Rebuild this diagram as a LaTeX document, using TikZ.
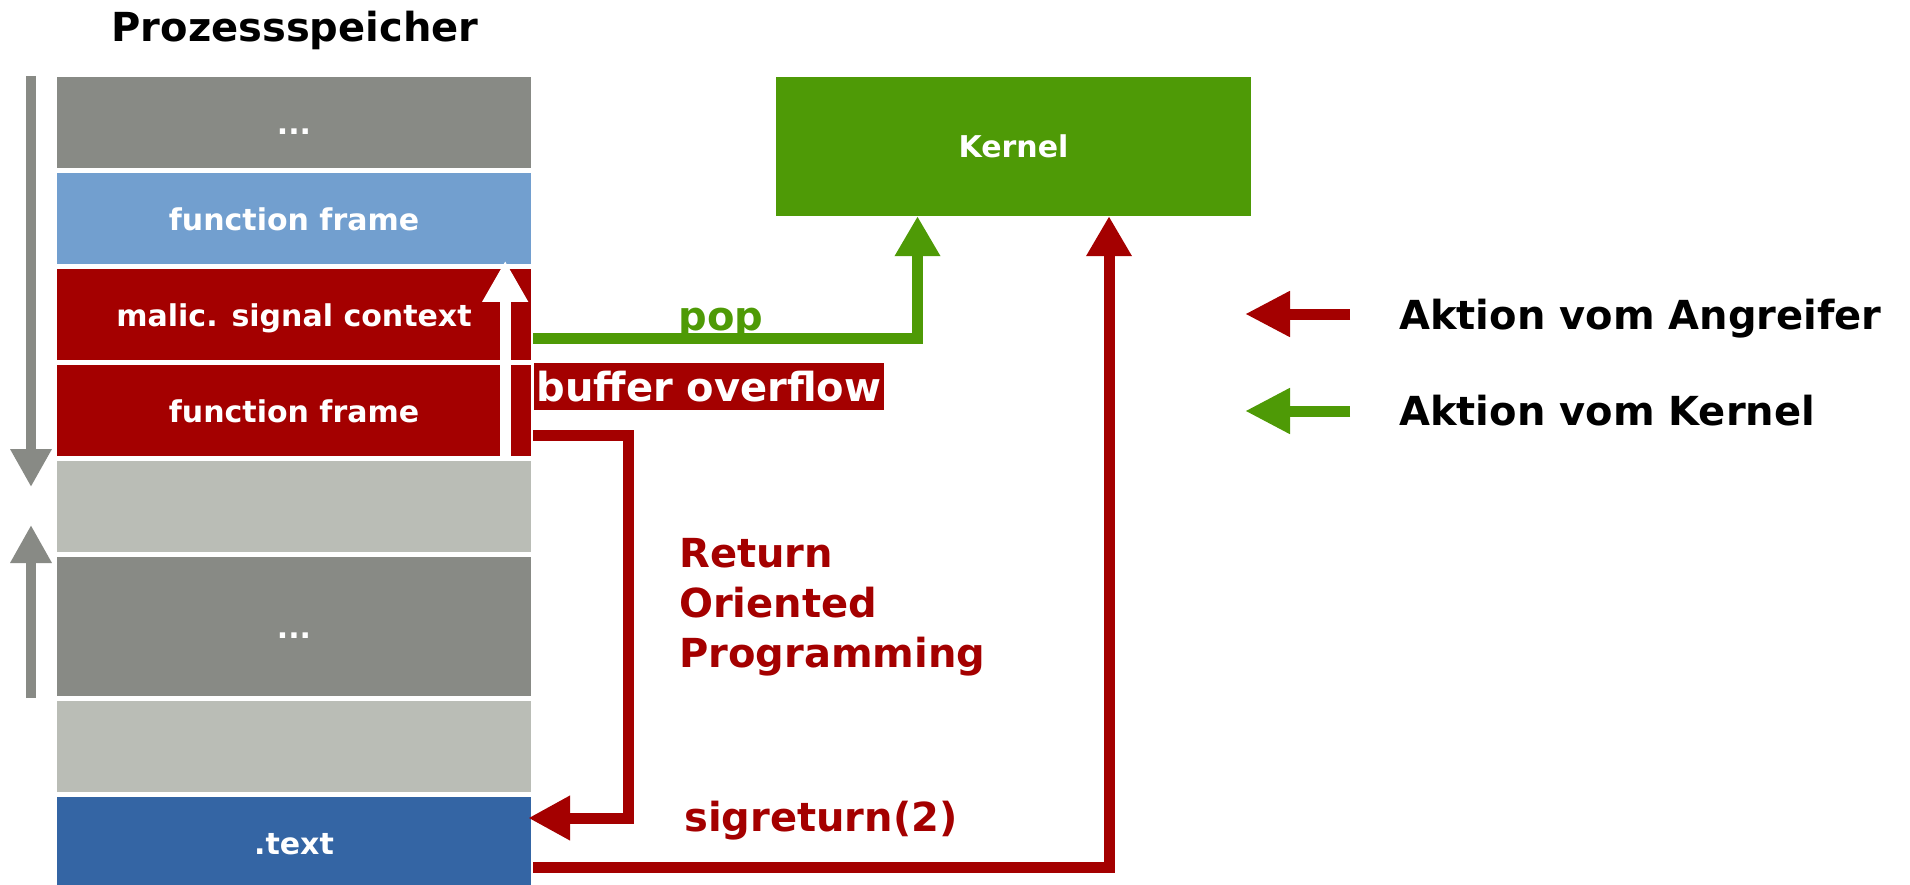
\documentclass[tikz,border=0pt]{standalone}
\usepackage{fontspec}
\setmainfont{DejaVu Sans}
\usetikzlibrary{arrows.meta}
\definecolor{dgray}{HTML}{888A85}
\definecolor{lgray}{HTML}{BABDB6}
\definecolor{lblue}{HTML}{729FCF}
\definecolor{dblue}{HTML}{3465A4}
\definecolor{dred}{HTML}{A40000}
\definecolor{dgreen}{HTML}{4E9A06}
\begin{document}
\begin{tikzpicture}[x=1pt,y=-1pt,
  mem/.style={minimum width=474pt, minimum height=91pt, inner sep=0pt, text=white,
    text height=24pt, text depth=0pt,
    font=\bfseries\fontsize{30}{36}\selectfont},
  big/.style={inner sep=0pt, font=\bfseries\fontsize{40}{50}\selectfont},
  conn/.style={line width=11pt},
  tipA/.style={-{Triangle[length=40pt,width=43pt]}},
  tipG/.style={-{Triangle[length=38pt,width=39pt]}, line width=10pt, dgray}
]
\useasboundingbox (0,0) rectangle (1910,885);
% memory boxes
\node[mem, fill=dgray] (b1) at (294,122.5) {...};
\node[mem, fill=lblue] (b2) at (294,218.5) {function frame};
\node[mem, fill=dred] (b3) at (294,314.5) {malic. signal context};
\node[mem, fill=dred] (b4) at (294,410.5) {function frame};
\node[mem, fill=lgray] (b5) at (294,506.5) {};
\node[mem, fill=dgray, minimum height=139pt] (b6) at (294,626.5) {...};
\node[mem, fill=lgray] (b7) at (294,746.5) {};
\node[mem, fill=dblue] (b8) at (294,842.5) {.text};
% title
\node[big, anchor=base] (title) at (295,42) {Prozessspeicher};
% growth arrows
\draw[tipG] (31,76) -- (31,487);
\draw[tipG] (31,698) -- (31,525);
% kernel
\node[minimum width=475pt, minimum height=139pt, inner sep=0pt, fill=dgreen, text=white,
  font=\bfseries\fontsize{30}{36}\selectfont] (kernel) at (1013.5,146.5) {Kernel};
% white overflow arrow
\draw[line width=11pt, white, -{Triangle[length=41pt,width=43pt]}]
  ([xshift=-26pt]b4.south east) -- ([xshift=-26pt,yshift=8pt]b3.north east);
% pop
\draw[conn, dgreen, tipA] ([xshift=2pt,yshift=-24pt]b3.east) -| ([xshift=-96pt]kernel.south);
\node[big, text=dgreen, anchor=base] (pop) at (721,330) {pop};
% buffer overflow label
\node[big, fill=dred, text=white, minimum width=350pt, minimum height=47pt] (bo) at (709,386.5) {buffer overflow};
% ROP
\draw[conn, dred, -{Triangle[length=42pt,width=42pt]}]
  ([xshift=2pt,yshift=-24.5pt]b4.east) -- ++(95,0) |- ([xshift=-3pt,yshift=24.5pt]b8.east);
\node[big, text=dred, align=left, anchor=base west] (rop) at (679,667) {Return\\Oriented\\Programming};
% sigreturn
\draw[conn, dred, tipA] ([xshift=2pt,yshift=-24.5pt]b8.east) -| ([xshift=95.5pt]kernel.south);
\node[big, text=dred, anchor=base west] (sig) at (684,831) {sigreturn(2)};
% legend
\draw[conn, dred, -{Triangle[length=45pt,width=43pt]}] (1350,314) -- (1245,314);
\draw[conn, dgreen, -{Triangle[length=45pt,width=43pt]}] (1350,411) -- (1245,411);
\node[big, anchor=base west] (leg1) at (1399,329) {Aktion vom Angreifer};
\node[big, anchor=base west] (leg2) at (1399,425) {Aktion vom Kernel};
\end{tikzpicture}
\end{document}
